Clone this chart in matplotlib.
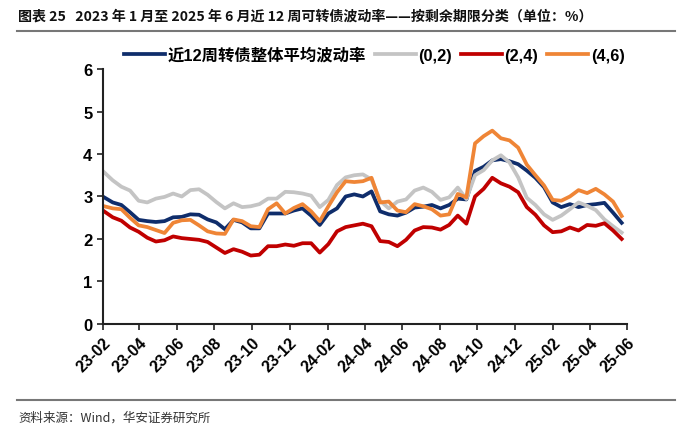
import matplotlib
matplotlib.use("Agg")
import matplotlib.pyplot as plt
import matplotlib.dates as mdates
import pandas as pd
from matplotlib.lines import Line2D

plt.rcParams['font.family'] = ['Noto Sans CJK SC', 'DejaVu Sans']

# biweekly observation dates
dates = pd.date_range('2023-02-03', periods=61, freq='14D')

overall = [2.98, 2.86, 2.80, 2.63, 2.45, 2.42, 2.40, 2.42, 2.51, 2.52,
           2.58, 2.57, 2.46, 2.39, 2.23, 2.45, 2.39, 2.25, 2.25, 2.60,
           2.60, 2.60, 2.67, 2.72, 2.55, 2.33, 2.60, 2.72, 3.00, 3.05,
           3.00, 3.12, 2.65, 2.58, 2.55, 2.62, 2.74, 2.76, 2.80, 2.72,
           2.80, 2.95, 2.93, 3.60, 3.70, 3.85, 3.88, 3.83, 3.76, 3.61,
           3.44, 3.22, 2.86, 2.75, 2.82, 2.75, 2.80, 2.82, 2.85, 2.62, 2.38]

s02 = [3.57, 3.38, 3.23, 3.14, 2.90, 2.86, 2.95, 2.99, 3.07, 3.00,
       3.15, 3.17, 3.04, 2.87, 2.72, 2.84, 2.75, 2.77, 2.82, 2.95,
       2.95, 3.11, 3.10, 3.07, 3.02, 2.75, 2.92, 3.27, 3.45, 3.50,
       3.52, 3.40, 2.90, 2.72, 2.88, 2.93, 3.14, 3.21, 3.11, 2.92,
       2.98, 3.21, 2.94, 3.50, 3.62, 3.85, 3.97, 3.80, 3.45, 2.97,
       2.80, 2.58, 2.45, 2.55, 2.70, 2.86, 2.78, 2.68, 2.46, 2.30, 2.15]

s24 = [2.65, 2.51, 2.43, 2.27, 2.17, 2.03, 1.94, 1.97, 2.06, 2.02,
       2.00, 1.98, 1.93, 1.80, 1.67, 1.76, 1.70, 1.61, 1.63, 1.83,
       1.83, 1.87, 1.84, 1.90, 1.90, 1.68, 1.88, 2.18, 2.28, 2.32,
       2.36, 2.30, 1.95, 1.93, 1.83, 1.98, 2.20, 2.28, 2.27, 2.22,
       2.33, 2.55, 2.36, 3.00, 3.18, 3.44, 3.31, 3.23, 3.10, 2.75,
       2.57, 2.32, 2.16, 2.18, 2.27, 2.20, 2.33, 2.31, 2.37, 2.20, 2.00]

s46 = [2.77, 2.72, 2.70, 2.50, 2.32, 2.28, 2.21, 2.14, 2.38, 2.44,
       2.45, 2.32, 2.18, 2.13, 2.12, 2.46, 2.42, 2.30, 2.28, 2.70,
       2.84, 2.60, 2.73, 2.82, 2.65, 2.42, 2.77, 3.10, 3.36, 3.34,
       3.36, 3.44, 2.86, 2.88, 2.67, 2.63, 2.82, 2.77, 2.70, 2.55,
       2.58, 3.06, 2.98, 4.25, 4.42, 4.55, 4.37, 4.32, 4.15, 3.75,
       3.50, 3.26, 2.92, 2.90, 3.00, 3.15, 3.08, 3.18, 3.05, 2.88, 2.54]

labels = ['近12周转债整体平均波动率', '(0,2)', '(2,4)', '(4,6)']
colors = ['#0F2D6B', '#C4C4C4', '#C00000', '#EF8536']
series = [overall, s02, s24, s46]

fig = plt.figure(figsize=(7, 4.35), dpi=100)
ax = fig.add_axes([0.147, 0.253, 0.749, 0.586])

for vals, c, lab in zip(series, colors, labels):
    ax.plot(dates, vals, color=c, lw=2.7, label=lab, solid_joinstyle='round')

ax.set_ylim(0, 6)
ax.set_yticks(range(0, 7))
ax.set_xlim(pd.Timestamp('2023-02-01'), pd.Timestamp('2025-06-01'))
ax.xaxis.set_major_locator(mdates.MonthLocator(bymonth=[2, 4, 6, 8, 10, 12]))
ax.xaxis.set_major_formatter(mdates.DateFormatter('%y-%m'))
for sp in ['top', 'right']:
    ax.spines[sp].set_visible(False)
for sp in ['left', 'bottom']:
    ax.spines[sp].set_linewidth(1.5)
    ax.spines[sp].set_color('#222222')
ax.tick_params(axis='both', direction='out', length=4, width=1.2, color='#222222')
for t in ax.get_xticklabels():
    t.set_rotation(45)
    t.set_ha('right')
    t.set_rotation_mode('anchor')
    t.set_fontfamily(['Liberation Sans', 'DejaVu Sans'])
    t.set_fontweight('bold')
    t.set_fontsize(11.5)
for t in ax.get_yticklabels():
    t.set_fontfamily(['Liberation Sans', 'DejaVu Sans'])
    t.set_fontweight('bold')
    t.set_fontsize(12)

handles = [Line2D([0], [0], color=c, lw=2.7) for c in colors]
leg = fig.legend(handles, labels, loc='center left', bbox_to_anchor=(0.168, 0.872),
                 ncol=4, frameon=False, handlelength=2.5, handletextpad=0.15,
                 columnspacing=0.55, borderaxespad=0,
                 prop={'family': ['Liberation Sans', 'Noto Sans CJK SC'], 'weight': 'bold', 'size': 11.8})

fig.text(0.026, 0.961, '图表 25   2023 年 1 月至 2025 年 6 月近 12 周可转债波动率——按剩余期限分类（单位：%）',
         fontsize=10.1, fontweight='bold', va='center', ha='left', color='#111111')
fig.add_artist(Line2D([0.024, 0.964], [0.926, 0.926], color='#777777', lw=1.5))
fig.add_artist(Line2D([0.024, 0.964], [0.078, 0.078], color='#777777', lw=1.5))
fig.text(0.026, 0.039, '资料来源：Wind，华安证券研究所', fontsize=9, va='center', ha='left',
         color='#333333')

fig.savefig('out.png', dpi=100)
